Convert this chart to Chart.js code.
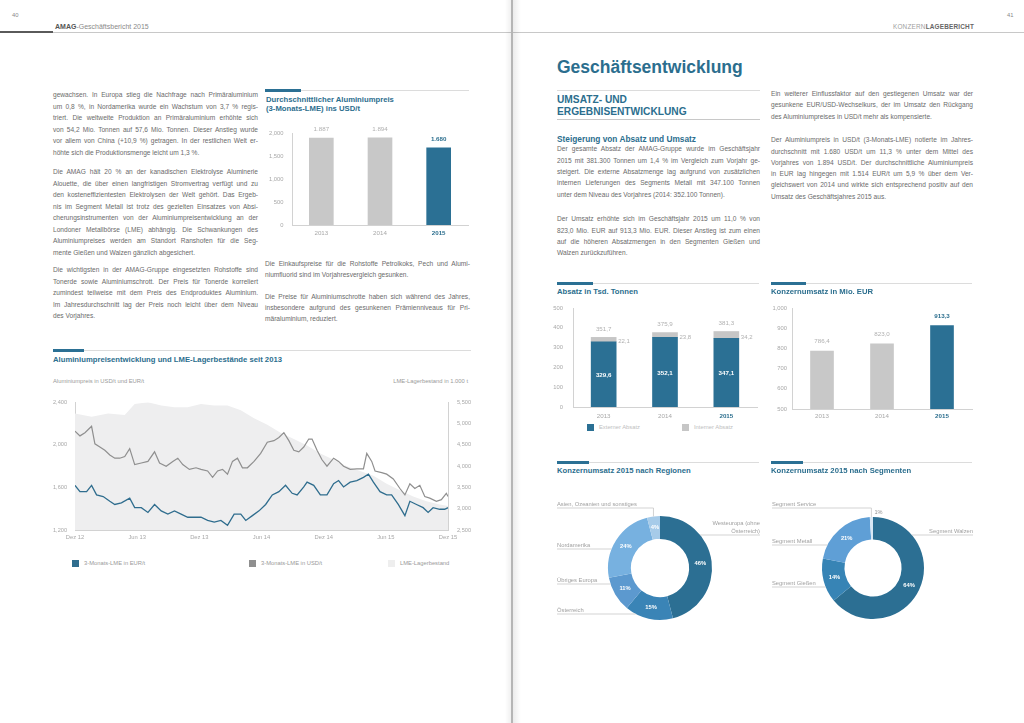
<!DOCTYPE html>
<html><head><meta charset="utf-8">
<script src="https://cdn.jsdelivr.net/npm/chart.js@4.4.1/dist/chart.umd.min.js"></script>
<style>
html,body{margin:0;padding:0;background:#fff;}
body{width:1024px;height:723px;position:relative;overflow:hidden;font-family:'Liberation Sans',Arial,Helvetica,sans-serif;}
.a{position:absolute;}
.p{position:absolute;font-size:6.6px;color:#6b6b6b;}
.p div{white-space:nowrap;}
.p div.j{text-align:justify;text-align-last:justify;}
.ttl{position:absolute;font-weight:bold;color:#2b6e8e;font-size:7.7px;line-height:9px;white-space:nowrap;}
.acc{position:absolute;height:3px;background:#2b7094;}
.hl{position:absolute;height:1px;background:#dcdcdc;}
.leg{position:absolute;font-size:5.8px;color:#9a9a9a;line-height:7px;white-space:nowrap;}
.sq{display:inline-block;width:7px;height:7px;margin-right:5px;vertical-align:top;}
.box{position:absolute;}
.small{position:absolute;font-size:5.8px;color:#9a9a9a;white-space:nowrap;line-height:7px;}
</style>
</head><body>

<!-- header -->
<div class="a" style="left:0;top:32px;width:512px;height:1px;background:#c8c8c8"></div>
<div class="a" style="left:0;top:31px;width:53px;height:2px;background:#5a5a5a"></div>
<div class="a" style="left:512px;top:32px;width:512px;height:1px;background:#c8c8c8"></div>
<div class="small" style="left:12px;top:12px;color:#888">40</div>
<div class="small" style="left:55px;top:23px;font-size:7px;color:#8a8a8a"><b style="color:#555">AMAG</b>-Geschäftsbericht 2015</div>
<div class="small" style="right:50px;top:23px;font-size:6.4px;color:#a0a0a0;letter-spacing:0.2px">KONZERN<b style="color:#666">LAGEBERICHT</b></div>
<div class="small" style="left:1007px;top:12px;color:#888">41</div>
<!-- gutter -->
<div class="a" style="left:505px;top:0;width:6px;height:723px;background:linear-gradient(to right,rgba(0,0,0,0),rgba(0,0,0,0.06))"></div>
<div class="a" style="left:511px;top:0;width:2px;height:723px;background:#b5b5b5"></div>
<div class="a" style="left:513px;top:0;width:8px;height:723px;background:linear-gradient(to right,rgba(0,0,0,0.08),rgba(0,0,0,0))"></div>

<!-- left page: bar chart title -->
<div class="acc" style="left:265px;top:89px;width:36px"></div>
<div class="hl" style="left:301px;top:90px;width:168px"></div>
<div class="ttl" style="left:266px;top:95px">Durchschnittlicher Aluminiumpreis<br>(3-Monats-LME) ins USD/t</div>
<div class="box" style="left:262px;top:118px;width:211px;height:123px"><canvas id="cAl"></canvas></div>

<!-- line chart -->
<div class="acc" style="left:53px;top:349px;width:31px"></div>
<div class="hl" style="left:84px;top:350px;width:387px"></div>
<div class="ttl" style="left:53px;top:354.5px">Aluminiumpreisentwicklung und LME-Lagerbestände seit 2013</div>
<div class="small" style="left:53px;top:378px">Aluminiumpreis in USD/t und EUR/t</div>
<div class="small" style="left:370px;width:98px;text-align:right;top:378px">LME-Lagerbestand in 1.000 t</div>
<div class="box" style="left:43px;top:390px;width:437px;height:156px"><canvas id="cLine"></canvas></div>
<div class="leg" style="left:72px;top:559.5px"><span class="sq" style="background:#2f6d8e"></span>3-Monats-LME in EUR/t</div>
<div class="leg" style="left:249px;top:559.5px"><span class="sq" style="background:#8f8f8f"></span>3-Monats-LME in USD/t</div>
<div class="leg" style="left:388px;top:559.5px"><span class="sq" style="background:#eeeeee"></span>LME-Lagerbestand</div>

<!-- right page headings -->
<div class="a" style="left:557px;top:57px;font-size:17.5px;line-height:20px;font-weight:bold;color:#2b6e8e;white-space:nowrap">Geschäftsentwicklung</div>
<div class="hl" style="left:557px;top:90px;width:203px"></div>
<div class="a" style="left:557px;top:94px;font-size:10.2px;line-height:11.5px;font-weight:bold;color:#2b6e8e;white-space:nowrap">UMSATZ- UND<br>ERGEBNISENTWICKLUNG</div>
<div class="hl" style="left:557px;top:119px;width:203px;background:#c8c8c8"></div>
<div class="a" style="left:557px;top:133.5px;font-size:8.3px;line-height:10px;font-weight:bold;color:#2b6e8e;white-space:nowrap">Steigerung von Absatz und Umsatz</div>

<!-- Absatz -->
<div class="acc" style="left:557px;top:282px;width:36px"></div>
<div class="hl" style="left:593px;top:283px;width:166px"></div>
<div class="ttl" style="left:557px;top:286.5px">Absatz in Tsd. Tonnen</div>
<div class="box" style="left:538px;top:293px;width:222px;height:130px"><canvas id="cAbs"></canvas></div>
<div class="leg" style="left:587px;top:423.5px;color:#c0c0c0"><span class="sq" style="background:#2b7094"></span>Externer Absatz</div>
<div class="leg" style="left:682px;top:423.5px;color:#c0c0c0"><span class="sq" style="background:#c6c6c6"></span>Interner Absatz</div>

<!-- Konzernumsatz -->
<div class="acc" style="left:771px;top:282px;width:35px"></div>
<div class="hl" style="left:806px;top:283px;width:166px"></div>
<div class="ttl" style="left:771px;top:286.5px">Konzernumsatz in Mio. EUR</div>
<div class="box" style="left:758px;top:293px;width:217px;height:130px"><canvas id="cUms"></canvas></div>

<!-- Doughnuts -->
<div class="acc" style="left:557px;top:461px;width:32px"></div>
<div class="hl" style="left:589px;top:462px;width:170px"></div>
<div class="ttl" style="left:557px;top:466px">Konzernumsatz 2015 nach Regionen</div>
<div class="box" style="left:555px;top:493px;width:210px;height:150px"><canvas id="cReg"></canvas></div>

<div class="acc" style="left:771px;top:461px;width:32px"></div>
<div class="hl" style="left:803px;top:462px;width:169px"></div>
<div class="ttl" style="left:771px;top:466px">Konzernumsatz 2015 nach Segmenten</div>
<div class="box" style="left:768px;top:493px;width:210px;height:150px"><canvas id="cSeg"></canvas></div>

<script>
// ---------------- DATA ----------------
const years = ['2013', '2014', '2015'];
const alPriceUsd = [1887, 1894, 1680];
const absatzExtern = [329.6, 352.1, 347.1];
const absatzIntern = [22.1, 23.8, 34.2];
const absatzTotal = [351.7, 375.9, 381.3];
const umsatz = [786.4, 823.0, 913.3];

const regionLabels = ['Westeuropa (ohne Österreich)', 'Österreich', 'Übriges Europa', 'Nordamerika', 'Asien, Ozeanien und sonstiges'];
const regionShare = [46, 15, 11, 24, 4];
const segmentLabels = ['Segment Walzen', 'Segment Gießen', 'Segment Metall', 'Segment Service'];
const segmentShare = [64, 14, 21, 1];

const lineTickLabels = ['Dez 12', 'Jun 13', 'Dez 13', 'Jun 14', 'Dez 14', 'Jun 15', 'Dez 15'];
// months since Dec 2012
const usdMonth = [0,0.48,0.96,1.28,1.6,1.92,2.4,2.88,3.36,3.84,4.32,4.8,5.28,5.76,6.4,7.04,7.68,8.16,8.8,9.44,9.92,10.4,11.04,11.68,12.16,12.8,13.28,13.76,14.24,14.72,15.2,15.68,16.16,16.64,17.28,17.92,18.56,19.2,19.68,20.16,20.64,21.12,21.6,22.08,22.56,22.88,23.36,23.84,24.32,24.96,25.44,25.92,26.56,27.2,27.84,28.16,28.64,28.96,29.6,30.08,30.72,31.36,31.84,32.32,32.8,33.28,33.76,34.24,34.88,35.36,35.84,36];
const usdPrice = [2130,2085,2115,2145,2175,2010,1980,1950,1905,1875,1875,1890,1965,1815,1830,1845,1935,1830,1800,1845,1875,1815,1770,1785,1770,1755,1695,1755,1770,1725,1845,1875,1785,1785,1845,1920,2025,2040,2070,2115,2040,1950,1935,1980,2055,2055,1950,1860,1800,1875,1845,1800,1770,1775,1775,1920,1845,1755,1740,1725,1680,1590,1530,1635,1590,1620,1515,1500,1470,1485,1545,1515];
const eurMonth = [0,0.48,1.12,1.6,2.08,2.72,3.36,3.84,4.48,5.28,5.76,6.4,7.04,7.68,8.32,8.96,9.6,10.24,10.88,11.52,12.16,12.8,13.44,14.08,14.72,15.36,16,16.48,17.12,17.76,18.4,19.04,19.68,20.32,20.96,21.44,22.08,22.4,23.04,23.68,24.32,24.96,25.44,25.92,26.56,27.2,27.84,28.32,28.8,29.44,30.08,30.56,31.2,31.84,32.32,32.96,33.6,34.08,34.56,35.2,35.68,36];
const eurPrice = [1620,1560,1560,1620,1530,1515,1470,1440,1455,1500,1410,1410,1365,1440,1380,1350,1380,1350,1320,1320,1320,1290,1275,1290,1245,1350,1350,1290,1335,1380,1440,1530,1560,1620,1545,1530,1605,1650,1620,1530,1530,1635,1665,1605,1650,1665,1695,1725,1650,1560,1530,1530,1440,1335,1470,1440,1410,1365,1410,1395,1395,1410];
const stockMonth = [0,1.6,3.2,4.8,5.76,7.04,8.32,9.6,10.88,12.16,13.44,14.72,16,17.28,18.56,19.84,21.12,22.4,23.68,24.96,26.24,27.52,28.8,30.08,31.36,32.64,33.92,35.2,36];
const stockKt = [5237,5160,5237,5200,5462,5500,5425,5387,5387,5462,5425,5425,5312,5125,4975,4787,4637,4487,4300,4150,4000,3887,3775,3587,3437,3287,3175,3100,3062];

// ---------------- TEXT ----------------
const FONT = "'Liberation Sans', Arial, sans-serif";
function para(x, y, w, lh, lines) {
  const d = document.createElement('div');
  d.className = 'p';
  d.style.left = x + 'px'; d.style.top = y + 'px'; d.style.width = w + 'px';
  lines.forEach((t, i) => {
    const l = document.createElement('div');
    if (i < lines.length - 1) l.className = 'j';
    l.style.height = lh + 'px'; l.style.lineHeight = lh + 'px';
    l.textContent = t;
    d.appendChild(l);
  });
  document.body.appendChild(d);
}
para(53, 89, 205, 11.5, [
  'gewachsen. In Europa stieg die Nachfrage nach Primäraluminium',
  'um 0,8 %, in Nordamerika wurde ein Wachstum von 3,7 % regis-',
  'triert. Die weltweite Produktion an Primäraluminium erhöhte sich',
  'von 54,2 Mio. Tonnen auf 57,6 Mio. Tonnen. Dieser Anstieg wurde',
  'vor allem von China (+10,9 %) getragen. In der restlichen Welt er-',
  'höhte sich die Produktionsmenge leicht um 1,3 %.']);
para(53, 166, 205, 11.5, [
  'Die AMAG hält 20 % an der kanadischen Elektrolyse Aluminerie',
  'Alouette, die über einen langfristigen Stromvertrag verfügt und zu',
  'den kosteneffizientesten Elektrolysen der Welt gehört. Das Ergeb-',
  'nis im Segment Metall ist trotz des gezielten Einsatzes von Absi-',
  'cherungsinstrumenten von der Aluminiumpreisentwicklung an der',
  'Londoner Metallbörse (LME) abhängig. Die Schwankungen des',
  'Aluminiumpreises werden am Standort Ranshofen für die Seg-',
  'mente Gießen und Walzen gänzlich abgesichert.']);
para(53, 264, 205, 11.5, [
  'Die wichtigsten in der AMAG-Gruppe eingesetzten Rohstoffe sind',
  'Tonerde sowie Aluminiumschrott. Der Preis für Tonerde korreliert',
  'zumindest teilweise mit dem Preis des Endproduktes Aluminium.',
  'Im Jahresdurchschnitt lag der Preis noch leicht über dem Niveau',
  'des Vorjahres.']);
para(265, 257.5, 205, 11, [
  'Die Einkaufspreise für die Rohstoffe Petrolkoks, Pech und Alumi-',
  'niumfluorid sind im Vorjahresvergleich gesunken.']);
para(265, 291, 205, 11, [
  'Die Preise für Aluminiumschrotte haben sich während des Jahres,',
  'insbesondere aufgrund des gesunkenen Prämienniveaus für Pri-',
  'märaluminium, reduziert.']);
para(557, 143.4, 203, 11.3, [
  'Der gesamte Absatz der AMAG-Gruppe wurde im Geschäftsjahr',
  '2015 mit 381.300 Tonnen um 1,4 % im Vergleich zum Vorjahr ge-',
  'steigert. Die externe Absatzmenge lag aufgrund von zusätzlichen',
  'internen Lieferungen des Segments Metall mit 347.100 Tonnen',
  'unter dem Niveau des Vorjahres (2014: 352.100 Tonnen).']);
para(557, 213.4, 203, 11.3, [
  'Der Umsatz erhöhte sich im Geschäftsjahr 2015 um 11,0 % von',
  '823,0 Mio. EUR auf 913,3 Mio. EUR. Dieser Anstieg ist zum einen',
  'auf die höheren Absatzmengen in den Segmenten Gießen und',
  'Walzen zurückzuführen.']);
para(771, 87.5, 202, 11.8, [
  'Ein weiterer Einflussfaktor auf den gestiegenen Umsatz war der',
  'gesunkene EUR/USD-Wechselkurs, der im Umsatz den Rückgang',
  'des Aluminiumpreises in USD/t mehr als kompensierte.']);
para(771, 134.3, 202, 11.3, [
  'Der Aluminiumpreis in USD/t (3-Monats-LME) notierte im Jahres-',
  'durchschnitt mit 1.680 USD/t um 11,3 % unter dem Mittel des',
  'Vorjahres von 1.894 USD/t. Der durchschnittliche Aluminiumpreis',
  'in EUR lag hingegen mit 1.514 EUR/t um 5,9 % über dem Ver-',
  'gleichswert von 2014 und wirkte sich entsprechend positiv auf den',
  'Umsatz des Geschäftsjahres 2015 aus.']);

// ---------------- CHARTS ----------------
Chart.defaults.font.family = FONT;
Chart.defaults.color = '#a8a8a8';
Chart.defaults.animation = false;
Chart.defaults.events = [];
Chart.defaults.plugins.legend.display = false;
Chart.defaults.plugins.tooltip.enabled = false;

const BLUE = '#2b7094', GRAYBAR = '#c8c8c8', HL = '#2b6e8e', AXIS = '#d2d2d2';
const NOGRID = { display: false, drawTicks: false, tickLength: 0 };
const fmtInt = (v, sep) => String(Math.round(v)).replace(/\B(?=(\d{3})+(?!\d))/g, sep);
const fmtDec = v => v.toFixed(1).replace('.', ',');
const fixW = w => s => { s.width = w; };
const fixH = h => s => { s.height = h; };
const yearTicks = (pad) => ({
  padding: pad,
  color: c => c.index === 2 ? HL : '#a8a8a8',
  font: c => ({ family: FONT, size: 6.2, weight: c.index === 2 ? 'bold' : 'normal' })
});

const valueLabels = {
  id: 'valueLabels',
  afterDatasetsDraw(chart, args, o) {
    if (!o || !o.values) return;
    const ctx = chart.ctx;
    const meta = chart.getDatasetMeta(o.dataset || 0);
    meta.data.forEach((bar, i) => {
      const hl = o.highlight && i === 2;
      ctx.save();
      ctx.font = (hl ? 'bold ' : '') + '6.2px ' + FONT;
      ctx.fillStyle = hl ? HL : '#b0b0b0';
      ctx.textAlign = 'center'; ctx.textBaseline = 'middle';
      ctx.fillText(o.format(o.values[i]), bar.x, bar.y - o.offset);
      ctx.restore();
    });
    if (o.inner) {
      const mExt = chart.getDatasetMeta(0), mInt = chart.getDatasetMeta(1);
      mInt.data.forEach((bar, i) => {
        ctx.save();
        ctx.font = '6px ' + FONT; ctx.fillStyle = '#b0b0b0';
        ctx.textAlign = 'left'; ctx.textBaseline = 'middle';
        ctx.fillText(fmtDec(chart.data.datasets[1].data[i]), bar.x + bar.width / 2 + 2, (bar.y + bar.base) / 2 + 2);
        ctx.restore();
      });
      mExt.data.forEach((bar, i) => {
        ctx.save();
        ctx.font = 'bold 6.2px ' + FONT; ctx.fillStyle = '#ffffff';
        ctx.textAlign = 'center'; ctx.textBaseline = 'middle';
        ctx.fillText(fmtDec(chart.data.datasets[0].data[i]), bar.x, (bar.y + bar.base) / 2 + 1);
        ctx.restore();
      });
    }
  }
};

// Aluminium price bar chart
new Chart(document.getElementById('cAl'), {
  type: 'bar',
  data: { labels: years, datasets: [{ data: alPriceUsd, backgroundColor: [GRAYBAR, GRAYBAR, BLUE], barThickness: 24 }] },
  options: {
    responsive: true, maintainAspectRatio: false,
    layout: { padding: { top: 15, right: 5, left: 0, bottom: 0 } },
    scales: {
      x: { grid: NOGRID, border: { color: AXIS }, ticks: yearTicks(5), afterFit: fixH(16) },
      y: { min: 0, max: 2000, grid: NOGRID, border: { color: AXIS },
           ticks: { stepSize: 500, padding: 8.5, font: { size: 5.8 }, callback: v => fmtInt(v, ',') }, afterFit: fixW(30) }
    },
    plugins: { valueLabels: { values: alPriceUsd, offset: 8.5, highlight: true, format: v => fmtInt(v, '.') } }
  },
  plugins: [valueLabels]
});

// Line chart
const pts = (xs, ys) => xs.map((x, i) => ({ x: x, y: ys[i] }));
new Chart(document.getElementById('cLine'), {
  type: 'line',
  data: { datasets: [
    { label: '3-Monats-LME in EUR/t', data: pts(eurMonth, eurPrice), yAxisID: 'yL', borderColor: '#2f6d8e', borderWidth: 1.3, pointRadius: 0, tension: 0, order: 1 },
    { label: '3-Monats-LME in USD/t', data: pts(usdMonth, usdPrice), yAxisID: 'yL', borderColor: '#8f8f8f', borderWidth: 1.2, pointRadius: 0, tension: 0, order: 2 },
    { label: 'LME-Lagerbestand', data: pts(stockMonth, stockKt), yAxisID: 'yR', borderWidth: 0, borderColor: 'rgba(0,0,0,0)', backgroundColor: '#eeeeef', fill: 'start', pointRadius: 0, tension: 0, order: 3 }
  ] },
  options: {
    responsive: true, maintainAspectRatio: false,
    layout: { padding: { top: 7, right: 0, left: 0, bottom: 0 } },
    scales: {
      x: { type: 'linear', min: 0, max: 36, grid: NOGRID, border: { color: AXIS },
           ticks: { stepSize: 6, padding: 4, font: { size: 5.8 }, callback: v => lineTickLabels[v / 6] }, afterFit: fixH(16) },
      yL: { position: 'left', min: 1200, max: 2400, grid: NOGRID, border: { color: AXIS },
            ticks: { stepSize: 400, padding: 8, font: { size: 5.6 }, callback: v => fmtInt(v, ',') }, afterFit: fixW(32) },
      yR: { position: 'right', min: 2500, max: 5500, grid: NOGRID, border: { color: AXIS },
            ticks: { stepSize: 500, padding: 9, font: { size: 5.6 }, callback: v => fmtInt(v, ',') }, afterFit: fixW(32) }
    }
  }
});

// Absatz stacked bar
new Chart(document.getElementById('cAbs'), {
  type: 'bar',
  data: { labels: years, datasets: [
    { label: 'Externer Absatz', data: absatzExtern, backgroundColor: BLUE, barThickness: 25 },
    { label: 'Interner Absatz', data: absatzIntern, backgroundColor: '#c6c6c6', barThickness: 25 }
  ] },
  options: {
    responsive: true, maintainAspectRatio: false,
    layout: { padding: { top: 15, right: 3, left: 0, bottom: 0 } },
    scales: {
      x: { stacked: true, grid: NOGRID, border: { color: AXIS }, ticks: yearTicks(6), afterFit: fixH(16) },
      y: { stacked: true, min: 0, max: 500, grid: NOGRID, border: { color: AXIS },
           ticks: { stepSize: 100, padding: 10, font: { size: 5.8 }, callback: v => fmtInt(v, ',') }, afterFit: fixW(35) }
    },
    plugins: { valueLabels: { values: absatzTotal, dataset: 1, offset: 8, inner: true, highlight: false, format: fmtDec } }
  },
  plugins: [valueLabels]
});

// Konzernumsatz bar
new Chart(document.getElementById('cUms'), {
  type: 'bar',
  data: { labels: years, datasets: [{ data: umsatz, backgroundColor: [GRAYBAR, GRAYBAR, BLUE], barThickness: 23 }] },
  options: {
    responsive: true, maintainAspectRatio: false,
    layout: { padding: { top: 15, right: 3, left: 0, bottom: 0 } },
    scales: {
      x: { grid: NOGRID, border: { color: AXIS }, ticks: yearTicks(4), afterFit: fixH(14) },
      y: { min: 500, max: 1000, grid: NOGRID, border: { color: AXIS },
           ticks: { stepSize: 100, padding: 5, font: { size: 5.8 }, callback: v => fmtInt(v, ',') }, afterFit: fixW(34) }
    },
    plugins: { valueLabels: { values: umsatz, offset: 9.5, highlight: true, format: fmtDec } }
  },
  plugins: [valueLabels]
});

// Doughnut labels plugin
const donutLabels = {
  id: 'donutLabels',
  afterDatasetsDraw(chart, args, o) {
    const ctx = chart.ctx;
    const meta = chart.getDatasetMeta(0);
    const ds = chart.data.datasets[0];
    const names = chart.data.labels;
    meta.data.forEach((arc, i) => {
      const v = ds.data[i];
      const p = arc.getProps(['x', 'y', 'startAngle', 'endAngle', 'outerRadius', 'innerRadius'], true);
      const cx = p.x, cy = p.y, r = p.outerRadius;
      const mid = (p.startAngle + p.endAngle) / 2;
      const lay = o.layout[i];
      ctx.save();
      if (v >= 3) {
        const rr = (p.outerRadius + p.innerRadius) / 2;
        ctx.font = 'bold 5.8px ' + FONT; ctx.fillStyle = '#fff';
        ctx.textAlign = 'center'; ctx.textBaseline = 'middle';
        ctx.fillText(v + '%', cx + Math.cos(mid) * rr, cy + Math.sin(mid) * rr);
      }
      const ly = cy + lay.dy;
      const tx = cx + lay.dx;
      ctx.strokeStyle = '#c8c8c8'; ctx.lineWidth = 0.8;
      ctx.beginPath();
      if (Math.abs(lay.dy) < r) {
        const ex = cx + (lay.side === 'left' ? -1 : 1) * Math.sqrt(r * r - lay.dy * lay.dy);
        ctx.moveTo(tx, ly); ctx.lineTo(ex, ly);
      } else {
        const px = cx + Math.cos(mid) * r, py = cy + Math.sin(mid) * r;
        ctx.moveTo(tx, ly); ctx.lineTo(px, ly); ctx.lineTo(px, py);
        if (v < 3) {
          ctx.stroke();
          ctx.font = '5.6px ' + FONT; ctx.fillStyle = '#909090';
          ctx.textAlign = 'left'; ctx.textBaseline = 'middle';
          ctx.fillText(v + '%', px + 3, (ly + py) / 2);
          ctx.beginPath();
        }
      }
      ctx.stroke();
      ctx.font = '5.8px ' + FONT; ctx.fillStyle = '#a0a0a0';
      ctx.textAlign = lay.side === 'left' ? 'left' : 'right';
      ctx.textBaseline = 'alphabetic';
      const lines = lay.lines || [names[i]];
      lines.forEach((t, k) => {
        ctx.fillText(t, tx, ly - 2.5 - (lines.length - 1 - k) * 8);
      });
      ctx.restore();
    });
  }
};

new Chart(document.getElementById('cReg'), {
  type: 'doughnut',
  data: { labels: regionLabels, datasets: [{ data: regionShare,
    backgroundColor: ['#2c6f93', '#3a84b6', '#5c99cf', '#77b1e0', '#a6cbe9'],
    borderWidth: 0, hoverOffset: 0, offset: 0 }] },
  options: {
    responsive: true, maintainAspectRatio: false, cutout: '56%',
    layout: { padding: { top: 23, bottom: 23, left: 50, right: 50 } },
    plugins: { donutLabels: { layout: [
      { side: 'right', dx: 100, dy: -33, lines: ['Westeuropa (ohne', 'Österreich)'] },
      { side: 'left', dx: -103, dy: 46 },
      { side: 'left', dx: -103, dy: 16 },
      { side: 'left', dx: -103, dy: -19 },
      { side: 'left', dx: -103, dy: -60 }
    ] } }
  },
  plugins: [donutLabels]
});

new Chart(document.getElementById('cSeg'), {
  type: 'doughnut',
  data: { labels: segmentLabels, datasets: [{ data: segmentShare,
    backgroundColor: ['#2c6f93', '#3784b5', '#5f9fd6', '#d8e7f4'],
    borderWidth: 0, hoverOffset: 0, offset: 0 }] },
  options: {
    responsive: true, maintainAspectRatio: false, cutout: '56%',
    layout: { padding: { top: 24, bottom: 24, left: 50, right: 50 } },
    plugins: { donutLabels: { layout: [
      { side: 'right', dx: 100, dy: -33 },
      { side: 'left', dx: -101, dy: 19 },
      { side: 'left', dx: -101, dy: -23 },
      { side: 'left', dx: -101, dy: -60 }
    ] } }
  },
  plugins: [donutLabels]
});
</script>
</body></html>
